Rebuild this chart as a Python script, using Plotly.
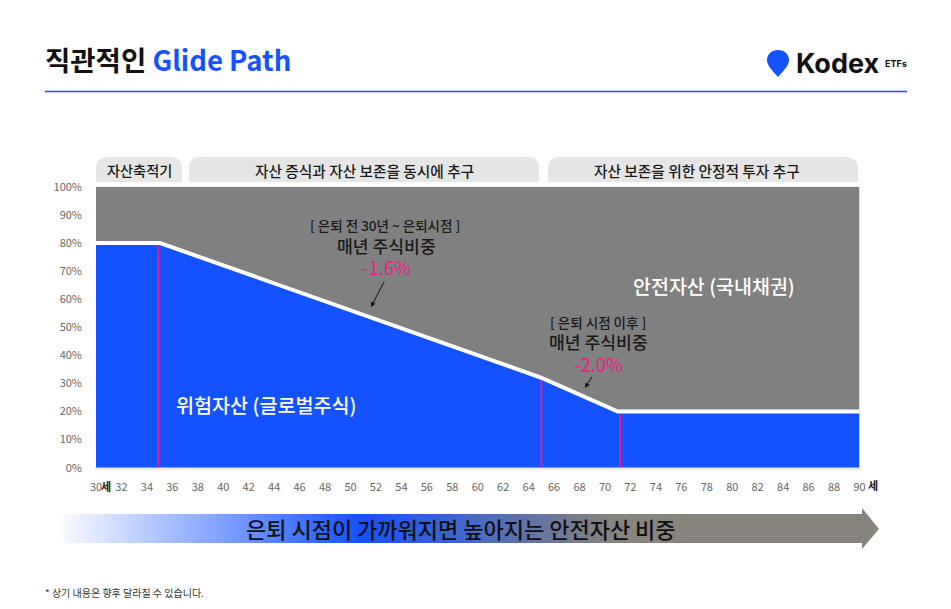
import plotly.graph_objects as go

# Chart data
ages = list(range(30, 91))
risk = [80, 80, 80, 80, 80, 80,
        78.4, 76.8, 75.2, 73.6, 72, 70.4, 68.8, 67.2, 65.6, 64,
        62.4, 60.8, 59.2, 57.6, 56, 54.4, 52.8, 51.2, 49.6, 48,
        46.4, 44.8, 43.2, 41.6, 40, 38.4, 36.8, 35.2, 33.6, 32,
        30, 28, 26, 24, 22, 20,
        20, 20, 20, 20, 20, 20, 20, 20, 20, 20, 20, 20, 20, 20, 20, 20, 20, 20, 20]
safe = [20, 20, 20, 20, 20, 20,
        21.6, 23.2, 24.8, 26.4, 28, 29.6, 31.2, 32.8, 34.4, 36,
        37.6, 39.2, 40.8, 42.4, 44, 45.6, 47.2, 48.8, 50.4, 52,
        53.6, 55.2, 56.8, 58.4, 60, 61.6, 63.2, 64.8, 66.4, 68,
        70, 72, 74, 76, 78, 80,
        80, 80, 80, 80, 80, 80, 80, 80, 80, 80, 80, 80, 80, 80, 80, 80, 80, 80, 80]
marker_ages = [34.9, 65, 71.2]
marker_tops = [80, 32, 20]
y_ticks = [0, 10, 20, 30, 40, 50, 60, 70, 80, 90, 100]
y_labels = ["0%", "10%", "20%", "30%", "40%", "50%", "60%", "70%", "80%", "90%", "100%"]
x_ticks = list(range(30, 91, 2))

BLUE = "#1452FF"
GRAY = "#808080"
PINK = "#EB1E87"
PILL = "#E6E6E6"
FONT = "Noto Sans CJK KR"
W, H = 951, 609

fig = go.Figure()

# Stacked areas
fig.add_trace(go.Scatter(x=ages, y=risk, stackgroup="one", mode="none", fillcolor=BLUE))
fig.add_trace(go.Scatter(x=ages, y=safe, stackgroup="one", mode="none", fillcolor=GRAY))
fig.add_trace(go.Scatter(x=ages, y=risk, mode="lines", line=dict(color="white", width=4)))

# Pink markers at the glide path turning points
for a, top in zip(marker_ages, marker_tops):
    fig.add_trace(go.Scatter(x=[a, a], y=[0, top - 1], mode="lines", line=dict(color=PINK, width=1.8)))

# Gradient arrow, on a full page axis that counts in pixels
fig.add_trace(go.Scatter(
    x=[55, 862, 862, 879, 862, 862, 55, 55],
    y=[514, 514, 508, 529, 549, 543, 543, 514],
    xaxis="x2", yaxis="y2", mode="none", fill="toself",
    fillgradient=dict(type="horizontal", colorscale=[
        [0, "white"], [0.37, BLUE], [0.677, "#87837D"], [1, "#87837D"]]),
))


def pill(x0, x1, y0=157, y1=182, r=12):
    return dict(type="path", xref="x2", yref="y2", fillcolor=PILL, line_width=0,
                path=f"M {x0} {y1} L {x0} {y0 + r} Q {x0} {y0} {x0 + r} {y0} "
                     f"L {x1 - r} {y0} Q {x1} {y0} {x1} {y0 + r} L {x1} {y1} Z")


shapes = [
    pill(96, 182), pill(189, 539), pill(548, 858),
    # rule under the title
    dict(type="line", xref="x2", yref="y2", x0=45, x1=907, y0=91.5, y1=91.5, line=dict(color=BLUE, width=1.5)),
    # x baseline
    dict(type="line", xref="x2", yref="y2", x0=94, x1=861, y0=469, y1=469, line=dict(color="#D9D9D9", width=1)),
    # logo pin
    dict(type="path", xref="x2", yref="y2", fillcolor=BLUE, line_width=0,
         path="M 778 77 C 773 71 767 66 767 60 C 767 54 772 50 778 50 "
              "C 784 50 789 54 789 60 C 789 66 783 71 778 77 Z"),
]


def label(x, y, text, size, color="#1A1A1A", anchor="center", weight=500, family=FONT):
    fig.add_annotation(x=x, y=y, xref="x2", yref="y2", text=text, showarrow=False,
                       xanchor=anchor, yanchor="middle",
                       font=dict(family=family, size=size, color=color, weight=weight))


label(43, 59, f"<b>직관적인 <span style='color:{BLUE}'>Glide Path</span></b>", 27.5, "#111111", "left")
label(794, 63, "<b>Kodex</b>", 27, "#111111", "left", family="Inter")
label(883, 63, "<b>ETFs</b>", 9, "#111111", "left", family="Inter")

label(139, 170, "자산축적기", 14.2)
label(364, 170, "자산 증식과 자산 보존을 동시에 추구", 14.7)
label(697, 170, "자산 보존을 위한 안정적 투자 추구", 14.7)

label(385, 225, "[ 은퇴 전 30년 ~ 은퇴시점 ]", 13.5)
label(386, 245, "매년 주식비중", 17.2)
label(386, 267, "-1.6%", 18.5, PINK, weight=400)
label(598, 322, "[ 은퇴 시점 이후 ]", 13.5)
label(598, 341, "매년 주식비중", 17.2)
label(598, 364, "-2.0%", 18.5, PINK, weight=400)
label(714, 285, "안전자산 (국내채권)", 19.5, "white")
label(266, 404, "위험자산 (글로벌주식)", 19.6, "white")

label(106, 486, "<b>세</b>", 11)
label(873, 485, "<b>세</b>", 11)
label(461, 528, "은퇴 시점이 가까워지면 높아지는 안전자산 비중", 22, "#111111")
label(43, 592, "* 상기 내용은 향후 달라질 수 있습니다.", 10, "#333333", "left", weight=400)

# Small arrows pointing at the slope
for x0, y0, x1, y1 in [(385, 280, 371, 307), (593, 375, 585, 388)]:
    fig.add_annotation(x=x1, y=y1, ax=x0, ay=y0, xref="x2", yref="y2", axref="x2", ayref="y2",
                       text="", showarrow=True, arrowhead=2, arrowsize=1, arrowwidth=1, arrowcolor="#111111")

fig.update_layout(
    width=W, height=H, margin=dict(l=0, r=0, t=0, b=0, pad=0, autoexpand=False),
    paper_bgcolor="white", plot_bgcolor="rgba(0,0,0,0)", showlegend=False, hovermode=False,
    shapes=shapes,
    font=dict(family=FONT),
    xaxis=dict(domain=[96 / W, 859.5 / W], range=[30, 90], tickmode="array", tickvals=x_ticks,
               showgrid=False, zeroline=False, ticks="", ticklabelstandoff=11,
               tickangle=0, tickfont=dict(size=11, color="#666666", family=FONT)),
    yaxis=dict(domain=[1 - 467.7 / H, 1 - 186.7 / H], range=[0, 100], tickmode="array",
               tickvals=y_ticks, ticktext=y_labels, showgrid=False, zeroline=False, ticks="",
               ticklabelstandoff=13, tickfont=dict(size=11, color="#666666", family=FONT)),
    xaxis2=dict(domain=[0, 1], range=[0, W], visible=False, anchor="y2"),
    yaxis2=dict(domain=[0, 1], range=[H, 0], visible=False, anchor="x2"),
)

fig.write_html("out.html", config={"displayModeBar": False},
               post_script="document.body.style.margin='0';")
